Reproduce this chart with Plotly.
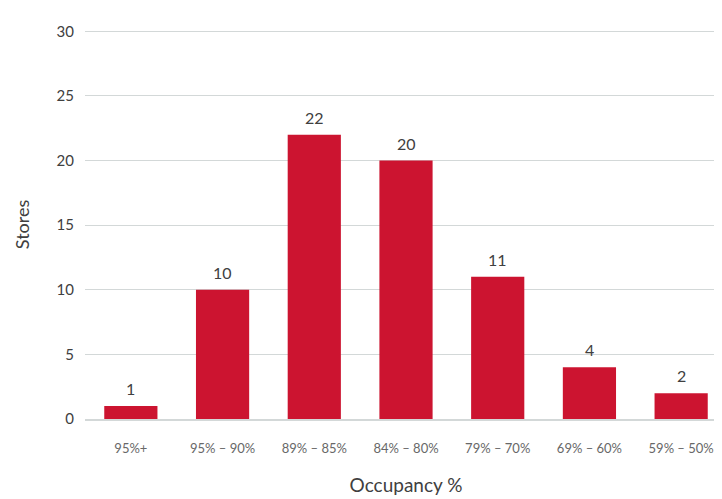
import plotly.graph_objects as go

categories = ["95%+", "95% – 90%", "89% – 85%", "84% – 80%", "79% – 70%", "69% – 60%", "59% – 50%"]
stores = [1, 10, 22, 20, 11, 4, 2]
y_ticks = [0, 5, 10, 15, 20, 25, 30]

FONT = "Lato, 'Noto Sans', sans-serif"

fig = go.Figure(go.Bar(
    x=categories, y=stores,
    marker=dict(color="#cc1430", line=dict(width=0)),
    cliponaxis=False,
))

for c, v in zip(categories, stores):
    fig.add_annotation(x=c, y=v, text=str(v), showarrow=False,
                       yanchor="bottom", yshift=6,
                       font=dict(family=FONT, size=16, color="#404040"))

fig.update_layout(
    width=722, height=491,
    margin=dict(l=77, r=3, t=22, b=80),
    paper_bgcolor="white", plot_bgcolor="white",
    bargap=0.42,
    showlegend=False,
    font=dict(family=FONT, color="#404040"),
    xaxis=dict(
        title=dict(text="Occupancy %", font=dict(size=19, color="#404040"), standoff=23),
        tickfont=dict(size=13, color="#686868"),
        showgrid=False, showline=True, linecolor="#d3d8d8", linewidth=1.5,
        ticks="", ticklabelstandoff=17, automargin=False,
    ),
    yaxis=dict(
        title=dict(text="Stores", font=dict(size=18, color="#404040"), standoff=22),
        range=[0, 30.1], tickvals=y_ticks,
        tickfont=dict(size=15, color="#404040"),
        showgrid=True, gridcolor="#d3d8d8", gridwidth=1,
        zeroline=False, ticks="", ticklabelstandoff=10, automargin=False,
    ),
)

fig.write_html("out.html")
